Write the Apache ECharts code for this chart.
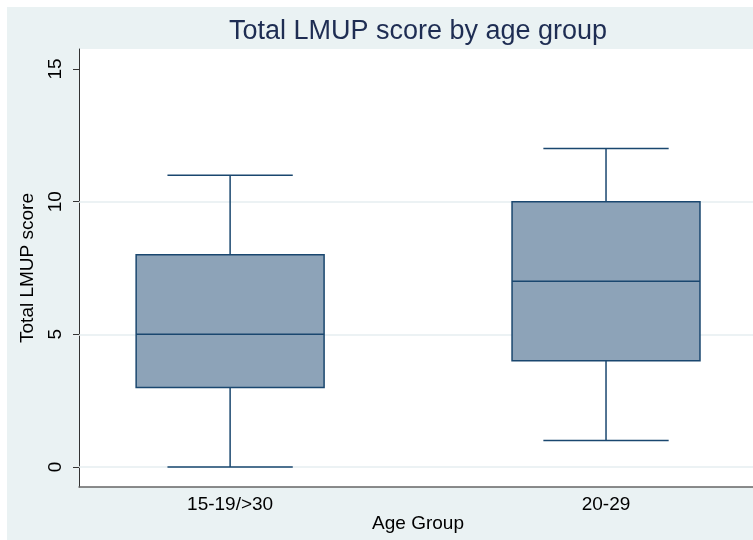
<!DOCTYPE html>
<html><head><meta charset="utf-8">
<script src="https://cdn.jsdelivr.net/npm/echarts@6/dist/echarts.min.js"></script>
<style>html,body{margin:0;padding:0;background:#fff}#c{width:753px;height:540px}</style>
</head><body><div id="c"></div>
<script>
const categories = ['15-19/>30', '20-29'];
const mins = [0, 1];
const q1s = [3, 4];
const medians = [5, 7];
const q3s = [8, 10];
const maxs = [11, 12];
const yTicks = [0, 5, 10, 15];
const gridValues = [0, 5, 10];
const titleText = 'Total LMUP score by age group';
const yName = 'Total LMUP score';
const xName = 'Age Group';

const data = categories.map((c, i) => [i + 1, mins[i], q1s[i], medians[i], q3s[i], maxs[i]]);
const FONT = '"Liberation Sans", Arial, Helvetica, sans-serif';
const NAVY = '#1A476F';

function renderItem(params, api) {
  const x = api.value(0);
  const lo = api.coord([x, api.value(1)]);
  const b1 = api.coord([x, api.value(2)]);
  const md = api.coord([x, api.value(3)]);
  const b3 = api.coord([x, api.value(4)]);
  const hi = api.coord([x, api.value(5)]);
  const bw = api.size([0.5, 0])[0];
  const cw = bw * 2 / 3;
  const cx = lo[0];
  const ls = { stroke: NAVY, lineWidth: 1.5, fill: null };
  return { type: 'group', children: [
    { type: 'line', shape: { x1: cx, y1: hi[1], x2: cx, y2: b3[1] }, style: ls },
    { type: 'line', shape: { x1: cx, y1: b1[1], x2: cx, y2: lo[1] }, style: ls },
    { type: 'line', shape: { x1: cx - cw / 2, y1: hi[1], x2: cx + cw / 2, y2: hi[1] }, style: ls },
    { type: 'line', shape: { x1: cx - cw / 2, y1: lo[1], x2: cx + cw / 2, y2: lo[1] }, style: ls },
    { type: 'rect', shape: { x: cx - bw / 2, y: b3[1], width: bw, height: b1[1] - b3[1] }, style: { fill: '#8DA3B8', stroke: NAVY, lineWidth: 1.5 } },
    { type: 'line', shape: { x1: cx - bw / 2, y1: md[1], x2: cx + bw / 2, y2: md[1] }, style: ls }
  ] };
}

const chart = echarts.init(document.getElementById('c'), null, { renderer: 'canvas' });
chart.setOption({
  animation: false,
  backgroundColor: '#fff',
  textStyle: { fontFamily: FONT },
  graphic: [
    { type: 'rect', z: -100, silent: true, shape: { x: 7, y: 7, width: 746, height: 533 }, style: { fill: '#EAF2F3' } },
    { type: 'rect', z: -99, silent: true, shape: { x: 79, y: 49, width: 674, height: 438 }, style: { fill: '#FFFFFF' } },
    { type: 'text', x: 418, y: 32, style: { text: titleText, fontSize: 27, fontFamily: FONT, fill: '#1E2D53', align: 'center', verticalAlign: 'middle' } },
    { type: 'text', x: 28, y: 268, rotation: Math.PI / 2, style: { text: yName, fontSize: 19, fontFamily: FONT, fill: '#000', align: 'center', verticalAlign: 'middle' } },
    { type: 'text', x: 418, y: 524, style: { text: xName, fontSize: 19, fontFamily: FONT, fill: '#000', align: 'center', verticalAlign: 'middle' } }
  ],
  grid: { left: 79, right: 0, top: 49, bottom: 53, containLabel: false },
  xAxis: {
    type: 'value', min: 0.598, max: 2.391,
    axisLine: { show: true, onZero: false, lineStyle: { color: '#666', width: 1.5 } },
    axisTick: { show: false },
    splitLine: { show: false },
    axisLabel: { customValues: [1, 2], formatter: v => categories[Math.round(v) - 1], fontSize: 19, color: '#000', margin: 8, fontFamily: FONT }
  },
  yAxis: {
    type: 'value', min: -0.754, max: 15.754,
    axisLine: { show: true, onZero: false, lineStyle: { color: '#333', width: 1 } },
    axisTick: { show: true, customValues: yTicks, length: 6, lineStyle: { color: '#333' } },
    splitLine: { show: false },
    axisLabel: { customValues: yTicks, rotate: 90, fontSize: 19, color: '#000', margin: 14, fontFamily: FONT }
  },
  series: [
    {
      type: 'line', data: [], z: 1, silent: true,
      markLine: { silent: true, symbol: 'none', label: { show: false },
        lineStyle: { color: '#E6EEF0', width: 1.5, type: 'solid' },
        data: gridValues.map(v => ({ yAxis: v })) }
    },
    { type: 'custom', z: 5, renderItem: renderItem, data: data, encode: { x: 0, y: [1, 2, 3, 4, 5] } }
  ]
});
</script></body></html>
